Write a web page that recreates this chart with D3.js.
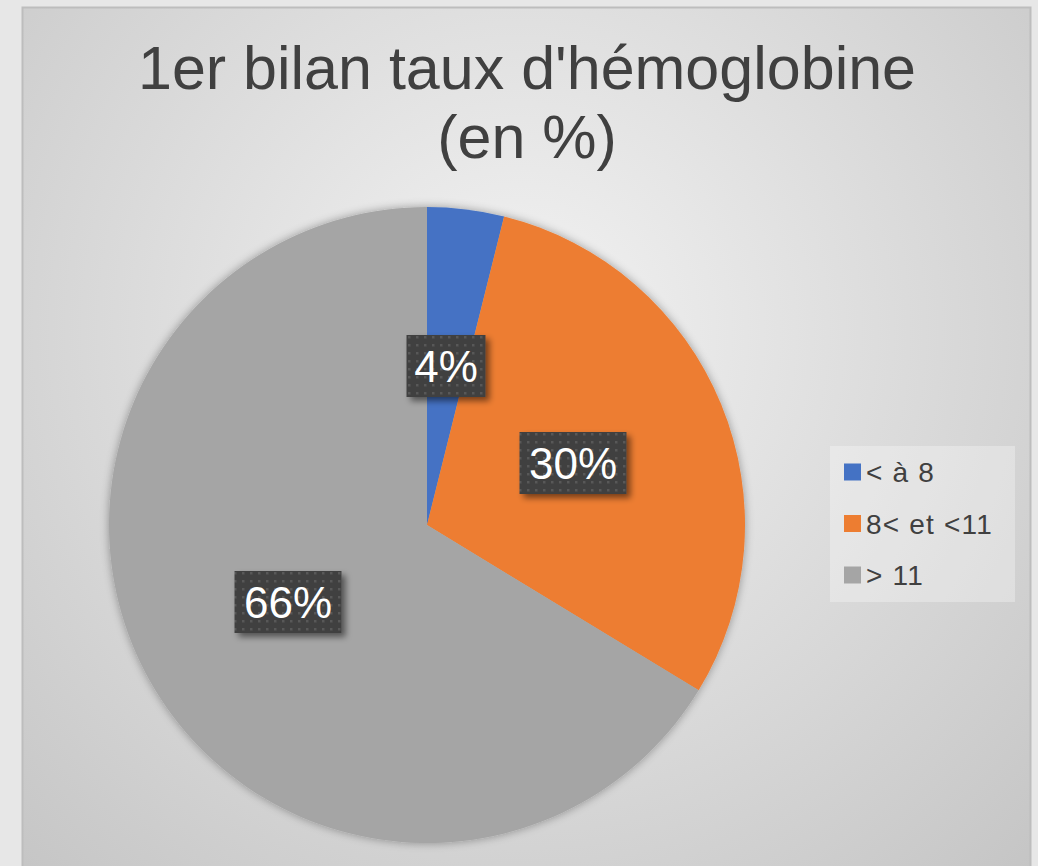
<!DOCTYPE html>
<html><head><meta charset="utf-8">
<script src="https://cdn.jsdelivr.net/npm/d3@7/dist/d3.min.js"></script>
<style>html,body{margin:0;padding:0;background:#e7e7e7;overflow:hidden}</style>
</head><body>
<svg id="c" width="1038" height="866"></svg>
<script>
const categories = ["< à 8", "8< et <11", "> 11"];
const values = [3.9, 29.8, 66.3];
const colors = ["#4472C4", "#ED7D31", "#A5A5A5"];
const titleLines = ["1er bilan taux d'hémoglobine", "(en %)"];

const svg = d3.select("#c");
const defs = svg.append("defs");
const bg = defs.append("radialGradient").attr("id","bg").attr("gradientUnits","userSpaceOnUse")
  .attr("cx",520).attr("cy",330).attr("r",760);
bg.append("stop").attr("offset",0).attr("stop-color","#f3f3f3");
bg.append("stop").attr("offset",1).attr("stop-color","#c4c4c4");

const sh = defs.append("filter").attr("id","pieShadow").attr("x","-20%").attr("y","-20%").attr("width","140%").attr("height","140%");
sh.append("feGaussianBlur").attr("in","SourceAlpha").attr("stdDeviation",5).attr("result","b");
sh.append("feOffset").attr("in","b").attr("dx",0).attr("dy",0).attr("result","o");
sh.append("feComponentTransfer").attr("in","o").attr("result","o2").append("feFuncA").attr("type","linear").attr("slope",0.35);
const m = sh.append("feMerge"); m.append("feMergeNode").attr("in","o2"); m.append("feMergeNode").attr("in","SourceGraphic");

const ls = defs.append("filter").attr("id","lblShadow").attr("x","-20%").attr("y","-20%").attr("width","150%").attr("height","150%");
ls.append("feGaussianBlur").attr("in","SourceAlpha").attr("stdDeviation",3).attr("result","b");
ls.append("feOffset").attr("in","b").attr("dx",4).attr("dy",4).attr("result","o");
ls.append("feComponentTransfer").attr("in","o").attr("result","o2").append("feFuncA").attr("type","linear").attr("slope",0.5);
const m2 = ls.append("feMerge"); m2.append("feMergeNode").attr("in","o2"); m2.append("feMergeNode").attr("in","SourceGraphic");

const pat = defs.append("pattern").attr("id","dots").attr("patternUnits","userSpaceOnUse").attr("width",8).attr("height",8);
pat.append("rect").attr("width",8).attr("height",8).attr("fill","#404040");
pat.append("rect").attr("x",2).attr("y",2).attr("width",2.5).attr("height",2.5).attr("fill","#585858");

// chart area
svg.append("rect").attr("x",22.5).attr("y",7.5).attr("width",1008).attr("height",880)
  .attr("fill","url(#bg)").attr("stroke","#bdbdbd").attr("stroke-width",2);

// title
const title = svg.append("text").attr("text-anchor","middle").attr("fill","#404040")
  .style("font-family","'Liberation Sans', Arial, sans-serif").style("font-size","61px");
title.selectAll("tspan").data(titleLines).join("tspan").attr("x",527)
  .attr("y",(d,i)=>89+i*69).text(d=>d);

// pie
const cx = 427, cy = 525, R = 318;
const pie = d3.pie().sort(null).value(d=>d);
const arcs = pie(values);
const arc = d3.arc().innerRadius(0).outerRadius(R);
const g = svg.append("g").attr("transform",`translate(${cx},${cy})`);
g.append("g").attr("filter","url(#pieShadow)").selectAll("path").data(arcs).join("path")
  .attr("d",arc).attr("fill",(d,i)=>colors[i]);

// labels
const total = d3.sum(values);
const labelPos = [[446-cx,366-cy],[573-cx,463-cy],[288-cx,602-cy]];
arcs.forEach((a,i)=>{
  const [x,y] = labelPos[i];
  const txt = Math.round(a.data/total*100)+"%";
  const lg = g.append("g").attr("transform",`translate(${x},${y})`);
  const w = txt.length===2 ? 79 : 107;
  lg.append("rect").attr("x",-w/2).attr("y",-31).attr("width",w).attr("height",62)
    .attr("fill","url(#dots)").attr("filter","url(#lblShadow)");
  lg.append("text").attr("text-anchor","middle").attr("dy","0.36em").attr("fill","#ffffff")
    .style("font-family","'Liberation Sans', Arial, sans-serif").style("font-size","44px").text(txt);
});

// legend
const leg = svg.append("g");
leg.append("rect").attr("x",830).attr("y",446).attr("width",185).attr("height",156)
  .attr("fill","#ffffff").attr("fill-opacity",0.3);
const items = leg.selectAll("g").data(categories).join("g")
  .attr("transform",(d,i)=>`translate(844,${472+i*51.5})`);
items.append("rect").attr("x",0).attr("y",-8.5).attr("width",17).attr("height",17).attr("fill",(d,i)=>colors[i]);
items.append("text").attr("x",22).attr("dy","0.36em").attr("fill","#404040")
  .style("font-family","'Liberation Sans', Arial, sans-serif").style("font-size","28px")
  .style("letter-spacing","1.2px").text(d=>d);
</script>
</body></html>
